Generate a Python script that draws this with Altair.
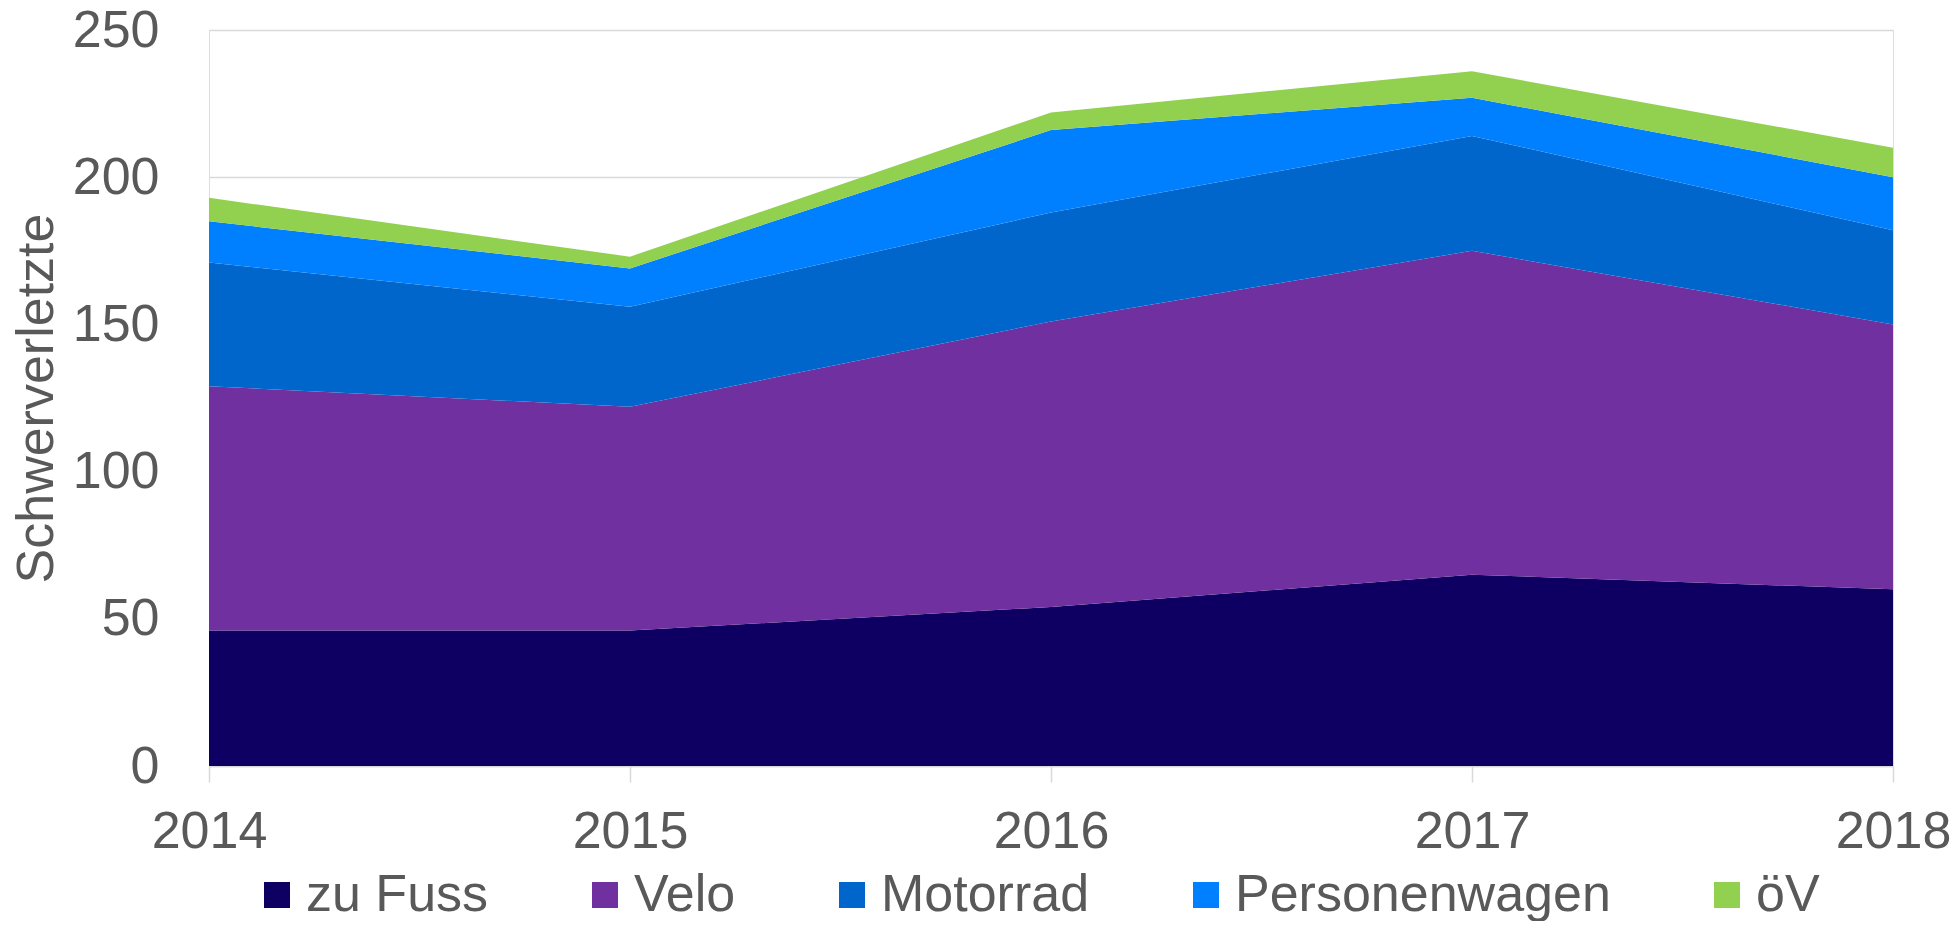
import altair as alt
import pandas as pd

years = [2014, 2015, 2016, 2017, 2018]
categories = ["zu Fuss", "Velo", "Motorrad", "Personenwagen", "öV"]
zu_fuss = [46, 46, 54, 65, 60]
velo = [83, 76, 97, 110, 90]
motorrad = [42, 34, 37, 39, 32]
personenwagen = [14, 13, 28, 13, 18]
oev = [8, 4, 6, 9, 10]
colors = ["#0d0062", "#7030a0", "#0066cc", "#0080ff", "#92d050"]
y_ticks = [0, 50, 100, 150, 200, 250]

series = [zu_fuss, velo, motorrad, personenwagen, oev]
rows = []
for i, (cat, vals) in enumerate(zip(categories, series)):
    for yr, v in zip(years, vals):
        rows.append({"Jahr": str(yr), "Kategorie": cat, "Wert": v, "idx": i})
df = pd.DataFrame(rows)

FONT = "Liberation Sans"
GRAY = "#595959"
LINE = "#d9d9d9"

chart = alt.Chart(df).mark_area(interpolate="linear", opacity=1).encode(
    x=alt.X(
        "Jahr:O",
        scale=alt.Scale(type="point", padding=0),
        axis=alt.Axis(
            title=None,
            labelAngle=0,
            labelFontSize=52,
            labelColor=GRAY,
            labelFont=FONT,
            labelPadding=65,
            labelBaseline="alphabetic",
            tickColor=LINE,
            tickSize=16,
            tickWidth=1.5,
            domainColor=LINE,
            domainWidth=1.5,
            grid=False,
        ),
    ),
    y=alt.Y(
        "Wert:Q",
        stack="zero",
        scale=alt.Scale(domain=[0, 250], nice=False),
        axis=alt.Axis(
            title="Schwerverletzte",
            values=y_ticks,
            labelFontSize=52,
            labelColor=GRAY,
            labelFont=FONT,
            labelPadding=50,
            ticks=False,
            tickSize=0,
            domain=False,
            grid=True,
            gridColor=LINE,
            gridWidth=1.5,
            titleFontSize=52,
            titleFontWeight="normal",
            titleColor=GRAY,
            titleFont=FONT,
            titleX=-157,
            titleY=368,
            titleAngle=270,
            titleAlign="center",
            titleBaseline="alphabetic",
        ),
    ),
    color=alt.Color(
        "Kategorie:N",
        scale=alt.Scale(domain=categories, range=colors),
        legend=alt.Legend(
            title=None,
            orient="none",
            direction="horizontal",
            legendX=42,
            legendY=839,
            padding=0,
            symbolType="square",
            symbolSize=676,
            symbolStrokeWidth=0,
            symbolOpacity=1,
            labelFontSize=52,
            labelColor=GRAY,
            labelFont=FONT,
            labelOffset=3,
            labelLimit=0,
            columnPadding=90,
        ),
    ),
    order=alt.Order("idx:Q", sort="ascending"),
).properties(
    width=1684,
    height=736,
    autosize=alt.AutoSizeParams(type="none"),
    padding={"left": 201, "top": 22, "right": 57, "bottom": 155},
    background="white",
).configure_view(stroke=None).configure(font=FONT)

chart.save("out.html", embed_options={"renderer": "svg", "actions": False})
